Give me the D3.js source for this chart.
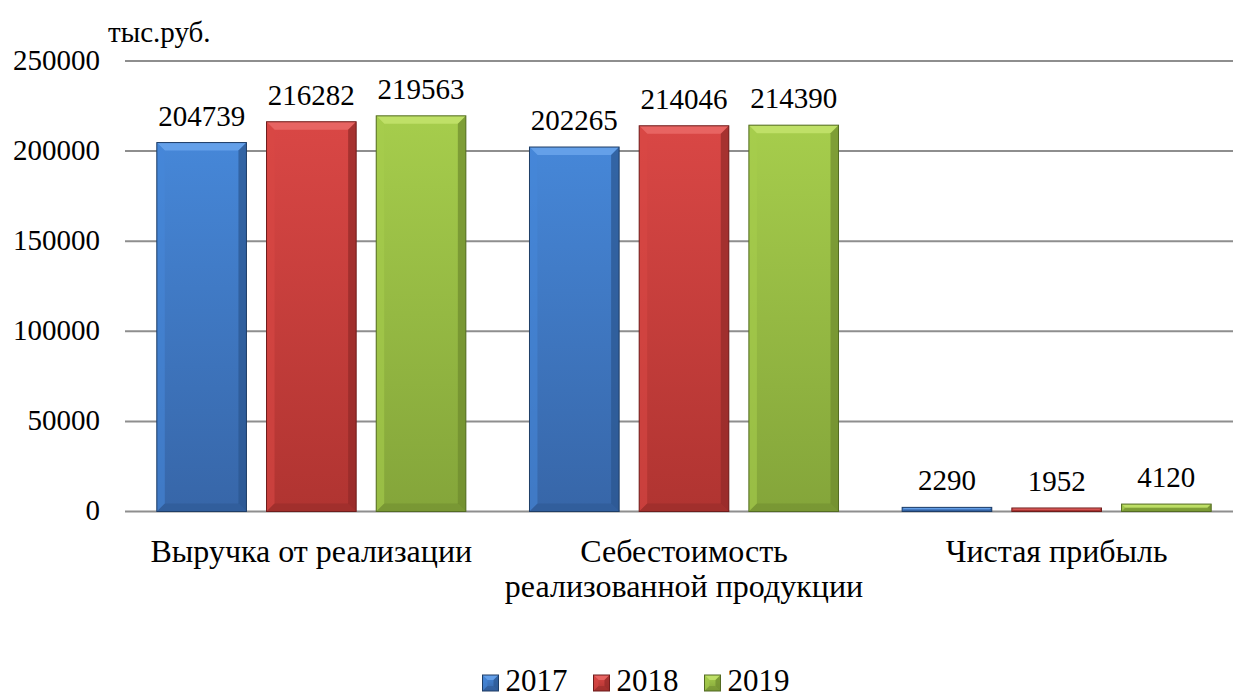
<!DOCTYPE html>
<html>
<head>
<meta charset="utf-8">
<script src="https://cdn.jsdelivr.net/npm/d3@7"></script>
<style>
  body { margin: 0; background: #fff; }
  svg { display: block; }
</style>
</head>
<body>
<svg width="1233" height="700"></svg>
<script>
// data
var categories = [["Выручка от реализации"], ["Себестоимость", "реализованной продукции"], ["Чистая прибыль"]];
var years = ["2017", "2018", "2019"];
var v2017 = [204739, 202265, 2290];
var v2018 = [216282, 214046, 1952];
var v2019 = [219563, 214390, 4120];
var yTicks = [0, 50000, 100000, 150000, 200000, 250000];
var unitLabel = "тыс.руб.";

var series = [v2017, v2018, v2019];
var colors = [
	{ top: "#4687d8", bot: "#3766a8", hi: "#6aa4ec", dark: "#2b568f", line: "#1e3d66" },
	{ top: "#d94745", bot: "#b03431", hi: "#ea6a67", dark: "#922a28", line: "#6e1d1c" },
	{ top: "#a6cd4c", bot: "#84a53a", hi: "#c3e36c", dark: "#6d8a2e", line: "#536b22" }
];

var FONT = "'Liberation Serif'";
var svg = d3.select("svg");

function label(parent, x, y, str, size, anchor) {
	return parent.append("text")
		.attr("x", x).attr("y", y)
		.attr("text-anchor", anchor || "start")
		.attr("font-size", size)
		.attr("fill", "#000")
		.style("font-family", FONT)
		.text(str);
}

var x0 = d3.scaleBand().domain(d3.range(categories.length)).range([125, 1243]);
var x1 = d3.scaleBand().domain(years).range([0, x0.bandwidth()]).paddingInner(0.183).paddingOuter(0.29);
var y = d3.scaleLinear().domain([0, 250000]).range([511.5, 61]);

var defs = svg.append("defs");
colors.forEach(function (c, i) {
	var g = defs.append("linearGradient").attr("id", "grad" + i)
		.attr("x1", 0).attr("y1", 0).attr("x2", 0).attr("y2", 1);
	g.append("stop").attr("offset", "0%").attr("stop-color", c.top);
	g.append("stop").attr("offset", "100%").attr("stop-color", c.bot);
});

// gridlines
svg.append("g")
	.selectAll("line")
	.data(yTicks)
	.enter().append("line")
	.attr("x1", 125).attr("x2", 1233)
	.attr("y1", function (d) { return y(d); })
	.attr("y2", function (d) { return y(d); })
	.attr("stroke", "#8e8e8e")
	.attr("stroke-width", 2);

// y axis labels
var yAxis = svg.append("g")
	.attr("transform", "translate(100,0)")
	.call(d3.axisLeft(y).tickValues(yTicks).tickSize(0).tickPadding(0).tickFormat(d3.format("d")));
yAxis.select(".domain").remove();
yAxis.selectAll(".tick text")
	.attr("fill", "#000")
	.attr("font-size", 29)
	.style("font-family", FONT)
	.attr("dy", "0.28em");

label(svg, 108, 42, unitLabel, 29);

// bevelled bar
function drawBar(g, bx, by, bw, bh, c, idx, b) {
	b = Math.min(b, bh / 2, bw / 2);
	g.append("rect").attr("x", bx).attr("y", by).attr("width", bw).attr("height", bh)
		.attr("fill", "url(#grad" + idx + ")");
	// top bevel
	g.append("path")
		.attr("d", "M" + bx + "," + by + "H" + (bx + bw) + "L" + (bx + bw - b) + "," + (by + b) + "H" + (bx + b) + "Z")
		.attr("fill", c.hi).attr("opacity", 0.85);
	// left bevel
	g.append("path")
		.attr("d", "M" + bx + "," + by + "L" + (bx + b) + "," + (by + b) + "V" + (by + bh - b) + "L" + bx + "," + (by + bh) + "Z")
		.attr("fill", c.top).attr("opacity", 0.6);
	// right bevel
	g.append("path")
		.attr("d", "M" + (bx + bw) + "," + by + "L" + (bx + bw - b) + "," + (by + b) + "V" + (by + bh - b) + "L" + (bx + bw) + "," + (by + bh) + "Z")
		.attr("fill", c.dark).attr("opacity", 0.7);
	// bottom bevel
	g.append("path")
		.attr("d", "M" + bx + "," + (by + bh) + "L" + (bx + b) + "," + (by + bh - b) + "H" + (bx + bw - b) + "L" + (bx + bw) + "," + (by + bh) + "Z")
		.attr("fill", c.dark).attr("opacity", 0.5);
	g.append("rect").attr("x", bx).attr("y", by).attr("width", bw).attr("height", bh)
		.attr("fill", "none").attr("stroke", c.line).attr("stroke-width", 1);
}

var bars = svg.append("g");
var values = svg.append("g");
categories.forEach(function (cat, ci) {
	years.forEach(function (yr, si) {
		var v = series[si][ci];
		var bx = x0(ci) + x1(yr);
		var by = y(v);
		var bh = y(0) - y(v);
		drawBar(bars.append("g"), bx, by, x1.bandwidth(), bh, colors[si], si, 8);
		label(values, bx + x1.bandwidth() / 2, by - 17, v, 29, "middle");
	});
});

// category labels
var cats = svg.append("g");
categories.forEach(function (lines, i) {
	var cx = x0(i) + x0.bandwidth() / 2;
	lines.forEach(function (line, li) {
		label(cats, cx, 562 + li * 35, line, 32, "middle");
	});
});

// legend
var legend = svg.append("g");
var lx = 0;
years.forEach(function (yr, i) {
	var item = legend.append("g").attr("transform", "translate(" + lx + ",0)");
	drawBar(item, 0, 675, 16, 16, colors[i], i, 5);
	var t = label(item, 23, 691, yr, 31);
	lx += 23 + t.node().getComputedTextLength() + 26;
});
var legendW = lx - 26;
legend.attr("transform", "translate(" + (636 - legendW / 2) + ",0)");
</script>
</body>
</html>
